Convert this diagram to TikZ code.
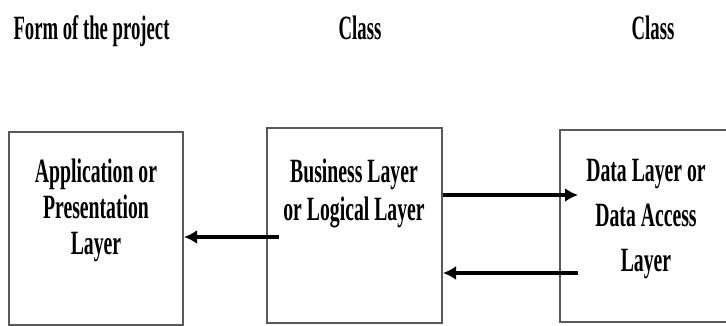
\documentclass[tikz,border=0pt]{standalone}
\usepackage{fontspec}
\setmainfont{Liberation Serif}
\usepackage{graphicx}
\usetikzlibrary{arrows.meta}
\usetikzlibrary{positioning}

% condensed bold text, as in the drawing
\newcommand{\headtxt}[1]{\scalebox{0.55}[1]{\fontsize{34}{38}\selectfont\bfseries #1}}
\newcommand{\layertxt}[2]{\scalebox{0.58}[1]{\fontsize{34}{#1}\selectfont\bfseries
	\begin{tabular}[t]{@{}c@{}}#2\end{tabular}}}

\begin{document}
\begin{tikzpicture}[x=1pt,y=-1pt,
	layer/.style={draw=black!65, line width=2pt, rectangle, inner sep=0pt},
	flow/.style={-{Latex[length=13pt,width=14pt]}, line width=3.2pt},
	txt/.style={anchor=base, inner sep=0pt}]
	\useasboundingbox (0,0) rectangle (726,325);
	\clip (0,0) rectangle (726,325);
	\node[txt] (h1) at (91.5, 39) {\headtxt{Form of the project}};
	\node[txt] (h2) at (360, 39) {\headtxt{Class}};
	\node[txt] (h3) at (653, 39) {\headtxt{Class}};
	\node[layer, minimum width=174pt, minimum height=193pt] (app) at (96, 228.5) {};
	\node[layer, minimum width=175pt, minimum height=195pt] (biz) at (354.5, 225.5) {};
	\node[layer, minimum width=172pt, minimum height=192pt] (data) at (646, 226) {};
	\node[txt] (apptxt) at (96, 182) {\layertxt{36}{Application or\\Presentation\\Layer}};
	\node[txt] (biztxt) at (354, 182) {\layertxt{38}{Business Layer\\or Logical Layer}};
	\node[txt] (datatxt) at (646, 181) {\layertxt{45}{Data Layer or\\Data Access\\Layer}};
	\coordinate (bizin) at (279, 237);
	\coordinate (datain) at (578, 195);
	\coordinate (dataout) at (578, 273);
	\draw[flow] (bizin) -- (bizin -| app.east);
	\draw[flow] (biz.east |- datain) -- (datain);
	\draw[flow] (dataout) -- (dataout -| biz.east);
\end{tikzpicture}
\end{document}
